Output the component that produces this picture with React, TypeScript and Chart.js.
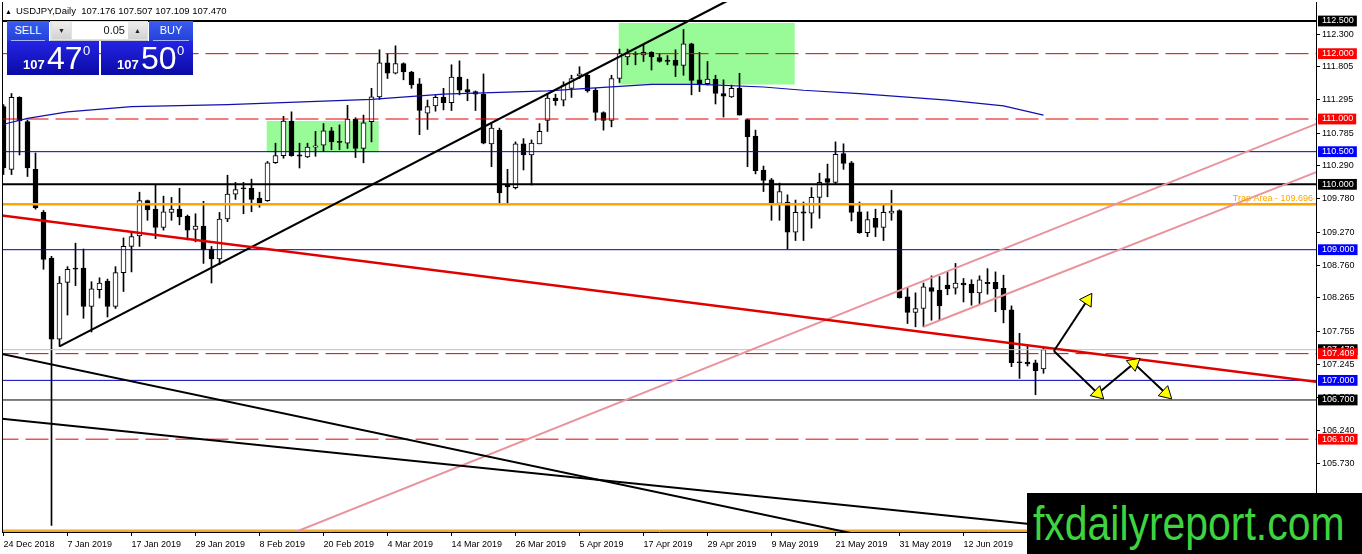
import React, { useEffect, useRef } from "react";
import { Chart, registerables } from "chart.js";

Chart.register(...registerables);

// ---------- data ----------
const symbolTitle = "USDJPY,Daily";
const dateLabels = [
  "24 Dec 2018", "7 Jan 2019", "17 Jan 2019", "29 Jan 2019", "8 Feb 2019", "20 Feb 2019",
  "4 Mar 2019", "14 Mar 2019", "26 Mar 2019", "5 Apr 2019", "17 Apr 2019", "29 Apr 2019",
  "9 May 2019", "21 May 2019", "31 May 2019", "12 Jun 2019",
];
const barsPerDateLabel = 8;

const opens = [
  111.19, 110.23, 111.33, 110.96, 110.23, 109.57, 108.87, 107.63, 108.5, 108.72,
  108.72, 108.13, 108.39, 108.52, 108.13, 108.65, 109.05, 109.21, 109.75, 109.62,
  109.34, 109.57, 109.62, 109.51, 109.31, 109.36, 109.01, 108.86, 109.47, 109.85,
  109.94, 109.94, 109.79, 109.75, 110.33, 110.44, 110.97, 110.45, 110.42, 110.57,
  110.6, 110.82, 110.66, 110.63, 111.0, 110.55, 110.96, 111.34, 111.86, 111.7,
  111.85, 111.72, 111.54, 111.09, 111.2, 111.33, 111.25, 111.64, 111.45, 111.42,
  111.38, 110.62, 110.83, 110.0, 109.95, 110.62, 110.45, 110.62, 110.98, 111.32,
  111.29, 111.47, 111.66, 111.67, 111.44, 111.1, 110.98, 111.62, 111.95, 111.99,
  111.98, 112.02, 111.94, 111.9, 111.9, 111.82, 112.15, 111.6, 111.54, 111.61,
  111.39, 111.34, 111.47, 110.99, 110.74, 110.22, 110.07, 109.71, 109.73, 109.27,
  109.58, 109.56, 109.8, 110.09, 110.03, 110.47, 110.33, 109.58, 109.26, 109.48,
  109.34, 109.56, 109.6, 108.28, 108.04, 108.1, 108.42, 108.38, 108.46, 108.41,
  108.49, 108.47, 108.34, 108.5, 108.5, 108.41, 108.08, 107.28, 107.28, 107.27,
  107.176,
];
const highs = [
  111.22, 111.39, 111.34, 110.98, 110.48, 109.6, 108.9, 108.59, 108.74, 109.1,
  109.01, 108.51, 108.57, 108.55, 108.74, 109.18, 109.28, 109.88, 109.76, 110.0,
  109.82, 109.8, 109.94, 109.53, 109.55, 109.74, 109.05, 109.57, 110.14, 110.03,
  110.03, 110.08, 109.88, 110.35, 110.63, 111.04, 111.11, 110.63, 110.63, 110.81,
  110.93, 110.87, 110.91, 111.21, 111.02, 111.06, 111.47, 112.06, 112.0, 112.12,
  111.86, 111.73, 111.62, 111.29, 111.36, 111.47, 111.83, 111.89, 111.61, 111.43,
  111.69, 110.93, 110.86, 110.23, 110.65, 110.7, 110.68, 110.93, 111.39, 111.38,
  111.57, 111.67, 111.8, 111.7, 111.47, 111.11, 111.67, 112.07, 112.07, 112.03,
  112.13, 112.03, 112.0, 111.97, 112.06, 112.37, 112.16, 112.02, 111.88, 111.67,
  111.6, 111.52, 111.7, 111.0, 110.83, 110.28, 110.09, 110.02, 109.84, 109.76,
  109.73, 109.95, 110.17, 110.31, 110.65, 110.62, 110.35, 109.73, 109.58, 109.62,
  109.68, 109.91, 109.61, 108.42, 108.34, 108.49, 108.6, 108.59, 108.66, 108.79,
  108.56, 108.54, 108.6, 108.71, 108.66, 108.61, 108.14, 107.72, 107.54, 107.31,
  107.507,
];
const lows = [
  110.15, 110.15, 110.45, 110.12, 109.62, 108.7, 104.78, 107.52, 108.0, 108.45,
  107.95, 107.74, 108.26, 107.97, 108.1, 108.36, 108.66, 109.05, 109.45, 109.17,
  109.3, 109.45, 109.38, 109.15, 109.12, 108.79, 108.49, 108.77, 109.43, 109.77,
  109.55, 109.58, 109.65, 109.74, 110.32, 110.4, 110.43, 110.25, 110.41, 110.43,
  110.5, 110.53, 110.53, 110.55, 110.41, 110.33, 110.65, 111.3, 111.62, 111.69,
  111.6, 111.47, 110.76, 110.84, 111.12, 111.14, 111.13, 111.37, 111.28, 111.13,
  110.62, 110.27, 109.72, 109.71, 109.93, 110.22, 109.99, 110.62, 110.81, 111.21,
  111.2, 111.33, 111.62, 111.41, 110.98, 110.83, 110.88, 111.56, 111.83, 111.83,
  111.88, 111.75, 111.87, 111.83, 111.65, 111.67, 111.37, 111.42, 111.52, 111.23,
  111.03, 111.33, 111.06, 110.27, 110.16, 109.89, 109.45, 109.45, 109.01, 109.14,
  109.14, 109.33, 109.48, 109.81, 110.0, 110.23, 109.44, 109.25, 109.2, 109.2,
  109.14, 109.45, 108.26, 107.87, 107.82, 107.82, 107.92, 107.92, 108.31, 108.32,
  108.2, 108.15, 108.17, 108.32, 108.05, 107.88, 107.21, 107.03, 107.22, 106.78,
  107.109,
];
const closes = [
  110.25, 111.33, 110.97, 110.25, 109.64, 108.85, 107.63, 108.49, 108.7, 108.7,
  108.13, 108.4, 108.49, 108.13, 108.65, 109.05, 109.2, 109.75, 109.61, 109.34,
  109.58, 109.62, 109.5, 109.3, 109.36, 109.0, 108.86, 109.47, 109.85, 109.92,
  109.93, 109.77, 109.7, 110.33, 110.44, 110.97, 110.44, 110.43, 110.57, 110.59,
  110.82, 110.65, 110.64, 111.0, 110.55, 110.94, 111.34, 111.86, 111.7, 111.85,
  111.72, 111.52, 111.13, 111.19, 111.33, 111.25, 111.64, 111.44, 111.41, 111.38,
  110.63, 110.86, 109.87, 109.96, 110.62, 110.45, 110.63, 110.81, 111.32, 111.28,
  111.52, 111.62, 111.69, 111.43, 111.1, 110.98, 111.62, 112.0, 112.0, 112.0,
  112.02, 111.95, 111.88, 111.88, 111.82, 112.15, 111.59, 111.54, 111.61, 111.39,
  111.35, 111.47, 111.06, 110.73, 110.21, 110.06, 109.72, 109.89, 109.27, 109.57,
  109.56, 109.8, 110.03, 110.03, 110.46, 110.32, 109.57, 109.26, 109.46, 109.34,
  109.57, 109.59, 108.26, 108.04, 108.1, 108.43, 108.36, 108.14, 108.4, 108.49,
  108.46, 108.34, 108.54, 108.48, 108.4, 108.08, 107.27, 107.27, 107.25, 107.15,
  107.47,
];

// moving average (read at sample bars)
const maIndex = [0, 3, 8, 16, 28, 46, 55, 68, 73, 81, 87, 95, 100, 107, 118, 125, 130];
const maValues = [110.92, 111.01, 111.11, 111.19, 111.22, 111.3, 111.38, 111.43, 111.47, 111.53, 111.53, 111.49, 111.44, 111.39, 111.29, 111.2, 111.06];

// price axis
const axisTickValues = [112.3, 111.805, 111.295, 110.785, 110.29, 109.78, 109.27, 108.76, 108.265, 107.755, 107.245, 106.735, 106.24, 105.73, 105.22];
const levelPrices = [112.5, 112.0, 111.0, 110.5, 110.0, 109.0, 107.47, 107.409, 107.0, 106.7, 106.1];
const levelKinds = ["major", "resist", "resist", "pivot", "major", "pivot", "bid", "resist", "pivot", "minor", "resist"];

const trapLevel = 109.696;
const trapLabel = "Trap Area - 109.696";
const floorLevel = 104.7;

// drawn objects (bar index, price)
const upTrendX = [7, 95];
const upTrendY = [107.52, 113.095];
const redTrendX = [-1, 165];
const redTrendY = [109.535, 106.964];
const fallAX = [-1, 110];
const fallAY = [107.426, 104.558];
const fallBX = [-1, 165];
const fallBY = [106.422, 104.341];
const channelAX = [34, 165];
const channelAY = [104.558, 110.97];
const channelBX = [115, 165];
const channelBY = [107.82, 110.23];
const zoneAX = [32.9, 46.9];
const zoneAY = [110.97, 110.49];
const zoneBX = [76.9, 98.9];
const zoneBY = [112.47, 111.53];
const arrowUpX = [131.3, 135.5];
const arrowUpY = [107.45, 108.23];
const zigzagX = [131.3, 136.8, 141.3, 145.3];
const zigzagY = [107.45, 106.8, 107.26, 106.8];

const lotSize = "0.05";
const bidPrice = 107.47;
const askPrice = 107.5;
const watermark = "fxdailyreport.com";

// scale limits
const xMin = -0.1875;
const xMax = 164.0625;
const yMin = 104.6794;
const yMax = 112.7908;

// ---------- helpers ----------
const FONT = '"Liberation Sans", Arial, sans-serif';
const xy = (xs: number[], ys: number[]) => xs.map((x, k) => ({ x, y: ys[k] }));

const levelStyle: Record<string, { color: string; width: number; dash: number[] }> = {
  major: { color: "#000000", width: 2, dash: [] },
  minor: { color: "#000000", width: 1, dash: [] },
  resist: { color: "#E00000", width: 1, dash: [23, 7] },
  pivot: { color: "#0000B4", width: 1, dash: [] },
  bid: { color: "#C0C0C0", width: 1, dash: [] },
};
const boxColor: Record<string, string> = {
  major: "#000000",
  minor: "#000000",
  bid: "#000000",
  resist: "#FF0000",
  pivot: "#0000FF",
};

const yTicks = [
  ...axisTickValues.map((v) => ({ value: v, kind: "" })),
  ...levelPrices.map((v, k) => ({ value: v, kind: levelKinds[k] })),
].sort((a, b) => b.value - a.value);

const lineDs = (data: any[], color: string, width: number, order: number, extra: any = {}) => ({
  type: "line",
  data,
  borderColor: color,
  borderWidth: width,
  pointRadius: 0,
  fill: false,
  tension: 0,
  order,
  ...extra,
});

const arrowRotation = (ctx: any) => {
  const i = ctx.dataIndex;
  if (!i) return 0;
  const d = ctx.dataset.data;
  const xs = ctx.chart.scales.x;
  const ys = ctx.chart.scales.y;
  const dx = xs.getPixelForValue(d[i].x) - xs.getPixelForValue(d[i - 1].x);
  const dy = ys.getPixelForValue(d[i].y) - ys.getPixelForValue(d[i - 1].y);
  return (Math.atan2(dx, -dy) * 180) / Math.PI;
};

const boxPath = (xs: number[], ys: number[]) => [
  { x: xs[0], y: ys[0] },
  { x: xs[1], y: ys[0] },
  { x: xs[1], y: ys[1] },
  { x: xs[0], y: ys[1] },
  { x: xs[0], y: ys[0] },
];

const decorPlugin = {
  id: "decor",
  afterDatasetsDraw(chart: any) {
    const { ctx, chartArea, scales } = chart;
    ctx.save();
    ctx.strokeStyle = "#000";
    ctx.lineWidth = 1;
    ctx.beginPath();
    ctx.moveTo(chartArea.left + 0.5, chartArea.top);
    ctx.lineTo(chartArea.left + 0.5, chartArea.bottom);
    ctx.stroke();
    const y = scales.y.getPixelForValue(trapLevel);
    ctx.font = `9px ${FONT}`;
    ctx.fillStyle = "#FFA500";
    ctx.textAlign = "right";
    ctx.textBaseline = "bottom";
    ctx.fillText(trapLabel, chartArea.right - 3, y - 1);
    ctx.restore();
  },
};

function buildConfig(): any {
  const idx = opens.map((_, i) => i);
  const bodyData = idx.map((i) => ({ x: i, y: [opens[i], closes[i]] }));
  const wickData = idx.map((i) => ({ x: i, y: [lows[i], highs[i]] }));
  const bodyFill = idx.map((i) => (closes[i] - opens[i] > 0.02 ? "#FFFFFF" : "#000000"));

  const levelSets = levelPrices.map((p, k) => {
    const s = levelStyle[levelKinds[k]];
    return lineDs(xy([-1, 166], [p, p]), s.color, s.width, levelKinds[k] === "bid" ? 4 : 3, { borderDash: s.dash });
  });

  const datasets: any[] = [
    lineDs(xy(arrowUpX, arrowUpY), "#000000", 2, 0, {
      pointRadius: [0, 8], pointStyle: "triangle", pointBackgroundColor: "#FFFF00",
      pointBorderColor: "#000000", pointBorderWidth: 1, pointRotation: arrowRotation,
    }),
    lineDs(xy(zigzagX, zigzagY), "#000000", 2, 0, {
      pointRadius: [0, 8, 8, 8], pointStyle: "triangle", pointBackgroundColor: "#FFFF00",
      pointBorderColor: "#000000", pointBorderWidth: 1, pointRotation: arrowRotation,
    }),
    lineDs(xy(redTrendX, redTrendY), "#E00000", 2.5, 1),
    lineDs(xy(upTrendX, upTrendY), "#000000", 2.2, 1),
    lineDs(xy(fallAX, fallAY), "#000000", 2, 1),
    lineDs(xy(fallBX, fallBY), "#000000", 2, 1),
    lineDs(xy(channelAX, channelAY), "#E9939B", 2, 1),
    lineDs(xy(channelBX, channelBY), "#E9939B", 2, 1),
    lineDs(xy([-1, 166], [trapLevel, trapLevel]), "#FFA500", 2.5, 2),
    lineDs(xy([-1, 166], [floorLevel, floorLevel]), "#F0A830", 2.5, 2),
    ...levelSets,
    lineDs(xy(maIndex, maValues), "#1010B0", 1.2, 2),
    {
      type: "bar", data: bodyData, backgroundColor: bodyFill, borderColor: "#000000",
      borderWidth: 1, borderSkipped: false, grouped: false, maxBarThickness: 5,
      barPercentage: 1, categoryPercentage: 1, minBarLength: 1, order: 5,
    },
    {
      type: "bar", data: wickData, backgroundColor: "#000000", borderWidth: 0,
      grouped: false, maxBarThickness: 1, barPercentage: 1, categoryPercentage: 1, order: 6,
    },
    lineDs(boxPath(zoneAX, zoneAY), "#98FB98", 0, 9, { fill: "shape", backgroundColor: "#98FB98" }),
    lineDs(boxPath(zoneBX, zoneBY), "#98FB98", 0, 9, { fill: "shape", backgroundColor: "#98FB98" }),
  ];

  return {
    type: "bar",
    data: { datasets },
    plugins: [decorPlugin],
    options: {
      responsive: false,
      maintainAspectRatio: false,
      animation: false,
      events: [],
      layout: { autoPadding: false, padding: { left: 2, top: 2, right: 0, bottom: 0 } },
      plugins: { legend: { display: false }, tooltip: { enabled: false } },
      scales: {
        x: {
          type: "linear",
          min: xMin,
          max: xMax,
          offset: false,
          bounds: "data",
          grid: { display: true, drawOnChartArea: false, drawTicks: true, tickLength: 4, tickColor: "#000", offset: false },
          border: { display: true, color: "#000", width: 1 },
          ticks: {
            autoSkip: false, maxRotation: 0, minRotation: 0, align: "start", padding: 3,
            color: "#000", font: { family: FONT, size: 9 },
            callback: (_v: any, i: number) => dateLabels[i] ?? "",
          },
          afterBuildTicks: (s: any) => {
            s.ticks = dateLabels.map((_, k) => ({ value: k * barsPerDateLabel }));
          },
          afterFit: (s: any) => {
            s.height = 22;
            s.paddingLeft = 0;
            s.paddingRight = 0;
          },
        },
        y: {
          type: "linear",
          position: "right",
          min: yMin,
          max: yMax,
          bounds: "data",
          grid: {
            display: true, drawOnChartArea: false, tickLength: 4,
            tickColor: (c: any) => (yTicks[c.index] && yTicks[c.index].kind ? "rgba(0,0,0,0)" : "#000"),
          },
          border: { display: true, color: "#000", width: 1 },
          ticks: {
            autoSkip: false, padding: 2, font: { family: FONT, size: 9 },
            color: (c: any) => (yTicks[c.index] && yTicks[c.index].kind ? "#FFFFFF" : "#000000"),
            showLabelBackdrop: (c: any) => !!(yTicks[c.index] && yTicks[c.index].kind),
            backdropColor: (c: any) => (yTicks[c.index] && yTicks[c.index].kind ? boxColor[yTicks[c.index].kind] : "rgba(0,0,0,0)"),
            backdropPadding: { left: 4, right: 3, top: 0, bottom: 0 },
            callback: (v: any) => Number(v).toFixed(3),
          },
          afterBuildTicks: (s: any) => {
            s.ticks = yTicks.map((t) => ({ value: t.value }));
          },
          afterFit: (s: any) => {
            s.width = 46;
            s.paddingTop = 0;
            s.paddingBottom = 0;
          },
        },
      },
    },
  };
}

function splitPrice(p: number) {
  const s = p.toFixed(3);
  return { lead: s.slice(0, 3), big: s.slice(4, 6), pip: s.slice(6) };
}

const btnBlue = "linear-gradient(#3b5cf0, #2341d8)";
const bigBlue = "linear-gradient(#2424e4, #0a0aa6)";

function PriceBox({ left, price }: { left: number; price: number }) {
  const p = splitPrice(price);
  return (
    <div style={{ position: "absolute", left, top: 41, width: 92, height: 34, background: bigBlue, color: "#fff", fontFamily: FONT }}>
      <span style={{ position: "absolute", left: 16, top: 17, fontSize: 13, fontWeight: "bold", lineHeight: "14px" }}>{p.lead}</span>
      <span style={{ position: "absolute", left: 40, top: 1, fontSize: 32, lineHeight: "32px" }}>{p.big}</span>
      <span style={{ position: "absolute", left: 76, top: 3, fontSize: 13, lineHeight: "14px" }}>{p.pip}</span>
    </div>
  );
}

function Button({ left, width, label }: { left: number; width: number; label: string }) {
  return (
    <div style={{ position: "absolute", left, top: 21, width, height: 20, background: btnBlue, color: "#fff", fontFamily: FONT, fontSize: 11, textAlign: "center", lineHeight: "19px" }}>
      {label}
      <div style={{ position: "absolute", left: 4, right: 4, bottom: 0, height: 1, background: "rgba(200,210,255,0.8)" }} />
    </div>
  );
}

export default function App() {
  const ref = useRef<HTMLCanvasElement>(null);
  useEffect(() => {
    if (!ref.current) return;
    const chart = new Chart(ref.current, buildConfig());
    return () => chart.destroy();
  }, []);

  const last = opens.length - 1;
  const header = `${symbolTitle}  ${opens[last].toFixed(3)} ${highs[last].toFixed(3)} ${lows[last].toFixed(3)} ${closes[last].toFixed(3)}`;

  return (
    <div style={{ position: "absolute", left: 0, top: 0, width: 1362, height: 554, overflow: "hidden", background: "#fff" }}>
      <canvas ref={ref} width={1362} height={554} style={{ position: "absolute", left: 0, top: 0 }} />
      <div style={{ position: "absolute", left: 5, top: 5, fontFamily: FONT, fontSize: 9.5, color: "#000", whiteSpace: "pre", lineHeight: "12px" }}>
        <span style={{ fontSize: 7, marginRight: 4 }}>▲</span>
        {header}
      </div>
      <Button left={7} width={42} label="SELL" />
      <div style={{ position: "absolute", left: 50, top: 21, width: 98, height: 19, background: "#E2E2E2", borderBottom: "1px solid #C8C8C8" }}>
        <div style={{ position: "absolute", left: 2, top: 1, width: 19, height: 17, background: "linear-gradient(#EEEEEE,#D2D2D2)", fontSize: 7, textAlign: "center", lineHeight: "17px", color: "#222", fontFamily: FONT }}>▼</div>
        <div style={{ position: "absolute", left: 22, top: 1, width: 56, height: 17, background: "#FFFFFF", fontSize: 11, textAlign: "right", lineHeight: "17px", color: "#111", fontFamily: FONT, paddingRight: 3, boxSizing: "border-box" }}>{lotSize}</div>
        <div style={{ position: "absolute", left: 78, top: 1, width: 19, height: 17, background: "linear-gradient(#EEEEEE,#D2D2D2)", fontSize: 7, textAlign: "center", lineHeight: "17px", color: "#222", fontFamily: FONT }}>▲</div>
      </div>
      <Button left={149} width={44} label="BUY" />
      <PriceBox left={7} price={bidPrice} />
      <PriceBox left={101} price={askPrice} />
      <div style={{ position: "absolute", left: 1027, top: 493, width: 335, height: 61, background: "#000", overflow: "hidden" }}>
        <span style={{ position: "absolute", left: 6, top: 6, fontFamily: FONT, fontSize: 49, lineHeight: "49px", color: "#3FD33F", whiteSpace: "nowrap", transform: "scaleX(0.835)", transformOrigin: "left top" }}>{watermark}</span>
      </div>
    </div>
  );
}
